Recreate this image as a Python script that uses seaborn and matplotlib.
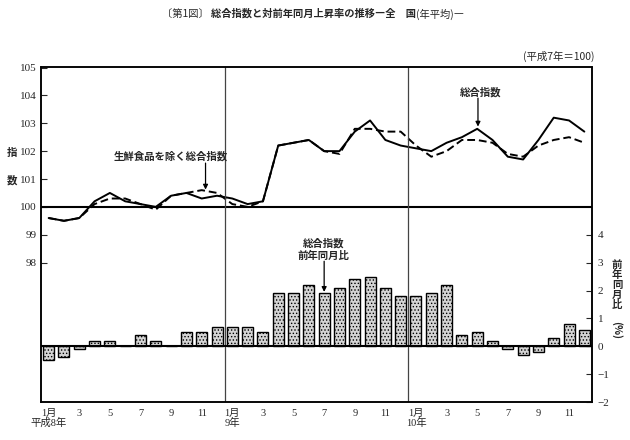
import matplotlib
matplotlib.use("Agg")
import matplotlib.pyplot as plt
import numpy as np
import pandas as pd
import seaborn as sns

# months Jan 1996 (H8) .. Dec 1998 (H10)
month_idx = list(range(36))
tick_pos = list(range(0, 36, 2))
tick_labels = ["1月\n平成8年", "3", "5", "7", "9", "11",
               "1月\n9年", "3", "5", "7", "9", "11",
               "1月\n10年", "3", "5", "7", "9", "11"]

# 総合指数 (平成7年=100)
cpi_all = [99.6, 99.5, 99.6, 100.2, 100.5, 100.2, 100.1, 100.0, 100.4, 100.5, 100.3, 100.4,
           100.3, 100.1, 100.2, 102.2, 102.3, 102.4, 102.0, 102.0, 102.7, 103.1, 102.4, 102.2,
           102.1, 102.0, 102.3, 102.5, 102.8, 102.4, 101.8, 101.7, 102.4, 103.2, 103.1, 102.7]
# 生鮮食品を除く総合指数
cpi_core = [99.6, 99.5, 99.6, 100.1, 100.3, 100.3, 100.1, 99.9, 100.4, 100.5, 100.6, 100.5,
            100.1, 100.0, 100.2, 102.2, 102.3, 102.4, 102.0, 101.9, 102.8, 102.8, 102.7, 102.7,
            102.2, 101.8, 102.0, 102.4, 102.4, 102.3, 101.9, 101.8, 102.2, 102.4, 102.5, 102.3]
# 総合指数 前年同月比 (%)
yoy = [-0.5, -0.4, -0.1, 0.2, 0.2, 0.0, 0.4, 0.2, 0.0, 0.5, 0.5, 0.7,
       0.7, 0.7, 0.5, 1.9, 1.9, 2.2, 1.9, 2.1, 2.4, 2.5, 2.1, 1.8,
       1.8, 1.9, 2.2, 0.4, 0.5, 0.2, -0.1, -0.3, -0.2, 0.3, 0.8, 0.6]

title_parts = [("〔第1図〕 ", "normal"),
               ("総合指数と対前年同月上昇率の推移―全　国", "bold"),
               ("(年平均)―", "normal")]

sns.set_style("ticks")
plt.rcParams["font.family"] = ["Liberation Serif", "Noto Sans CJK JP", "DejaVu Sans"]
plt.rcParams["hatch.color"] = "#555555"
plt.rcParams["hatch.linewidth"] = 0.6
JP = ["Noto Sans CJK JP", "DejaVu Sans"]

fig = plt.figure(figsize=(6.3, 4.4), dpi=100)
ax = fig.add_axes([41 / 630, 1 - 402 / 440, 551 / 630, 334.5 / 440])
ax2 = ax.twinx()

df = pd.DataFrame({"month": month_idx, "all": cpi_all, "core": cpi_core, "yoy": yoy})

# bars: year-on-year change on the right scale
sns.barplot(data=df, x="month", y="yoy", ax=ax2, color="#d4d4d4", saturation=1,
            edgecolor="black", linewidth=1.0, width=0.72)
for p in ax2.patches:
    p.set_hatch(".....")

# lines: index on the left scale
sns.lineplot(data=df, x="month", y="core", ax=ax, color="black", lw=1.4,
             linestyle=(0, (4, 2)))
sns.lineplot(data=df, x="month", y="all", ax=ax, color="black", lw=1.4)

ax.set_ylim(93, 105)
ax2.set_ylim(-2, 10)
ax.set_xlim(-0.5, 35.5)

ax.axhline(100, color="black", lw=1.5)
ax2.axhline(0, color="black", lw=1.5)
for xv in (11.5, 23.5):
    ax.axvline(xv, color="#444444", lw=0.9)

ax.set_yticks(range(98, 106))
ax.set_yticklabels([str(v) for v in range(98, 106)], fontsize=8)
ax2.set_yticks(range(-2, 5))
ax2.set_yticklabels([str(v).replace("-", "\u2212") for v in range(-2, 5)], fontsize=8)
ax.tick_params(axis="y", direction="in", length=4, width=0.8, pad=3)
ax2.tick_params(axis="y", direction="in", length=4, width=0.8, pad=4)

ax.set_xticks(tick_pos)
ax.set_xticklabels(tick_labels, fontsize=7.5, linespacing=1.0)
ax.tick_params(axis="x", length=0, pad=5)

ax.set_xlabel("")
ax.set_ylabel("")
ax2.set_ylabel("")
for a in (ax, ax2):
    for s in a.spines.values():
        s.set_linewidth(1.1)
        s.set_color("black")

# annotations
arrow = dict(arrowstyle="-|>", color="black", lw=0.9, mutation_scale=7, shrinkA=0, shrinkB=0)
ax.text(8.0, 101.8, "生鮮食品を除く総合指数", ha="center", va="center",
        fontsize=7.5, family=JP, fontweight="bold")
ax.annotate("", xy=(10.25, 100.62), xytext=(10.25, 101.57), arrowprops=arrow)
ax.text(28.2, 104.1, "総合指数", ha="center", va="center",
        fontsize=7.5, family=JP, fontweight="bold")
ax.annotate("", xy=(28.05, 102.88), xytext=(28.05, 103.9), arrowprops=arrow)
ax2.text(17.95, 3.47, "総合指数\n前年同月比", ha="center", va="center",
         fontsize=7.5, family=JP, fontweight="bold", linespacing=1.3)
ax2.annotate("", xy=(18.0, 1.95), xytext=(18.0, 3.05), arrowprops=arrow)

# title in three runs (middle part bold)
renderer = fig.canvas.get_renderer()
x_px = 162
for txt, wt in title_parts:
    t = fig.text(x_px / 630, 1 - 14 / 440, txt, ha="left", va="center",
                 fontsize=7.4, family=JP, fontweight=wt)
    x_px += t.get_window_extent(renderer).width

fig.text(595 / 630, 1 - 56 / 440, "(平成7年＝100)", ha="right", va="center",
         fontsize=7.5, family=JP)
fig.text(12 / 630, 1 - 153 / 440, "指", ha="center", va="center", fontsize=7.5,
         family=JP, fontweight="bold")
fig.text(12 / 630, 1 - 180 / 440, "数", ha="center", va="center", fontsize=7.5,
         family=JP, fontweight="bold")
fig.text(617 / 630, 1 - 285 / 440, "前\n年\n同\n月\n比", ha="center", va="center",
         fontsize=7.5, family=JP, fontweight="bold", linespacing=1.0)
fig.text(617 / 630, 1 - 330 / 440, "(%)", ha="center", va="center", rotation=270,
         fontsize=7.5, family=JP, fontweight="bold")

fig.savefig("out.png", dpi=100)
